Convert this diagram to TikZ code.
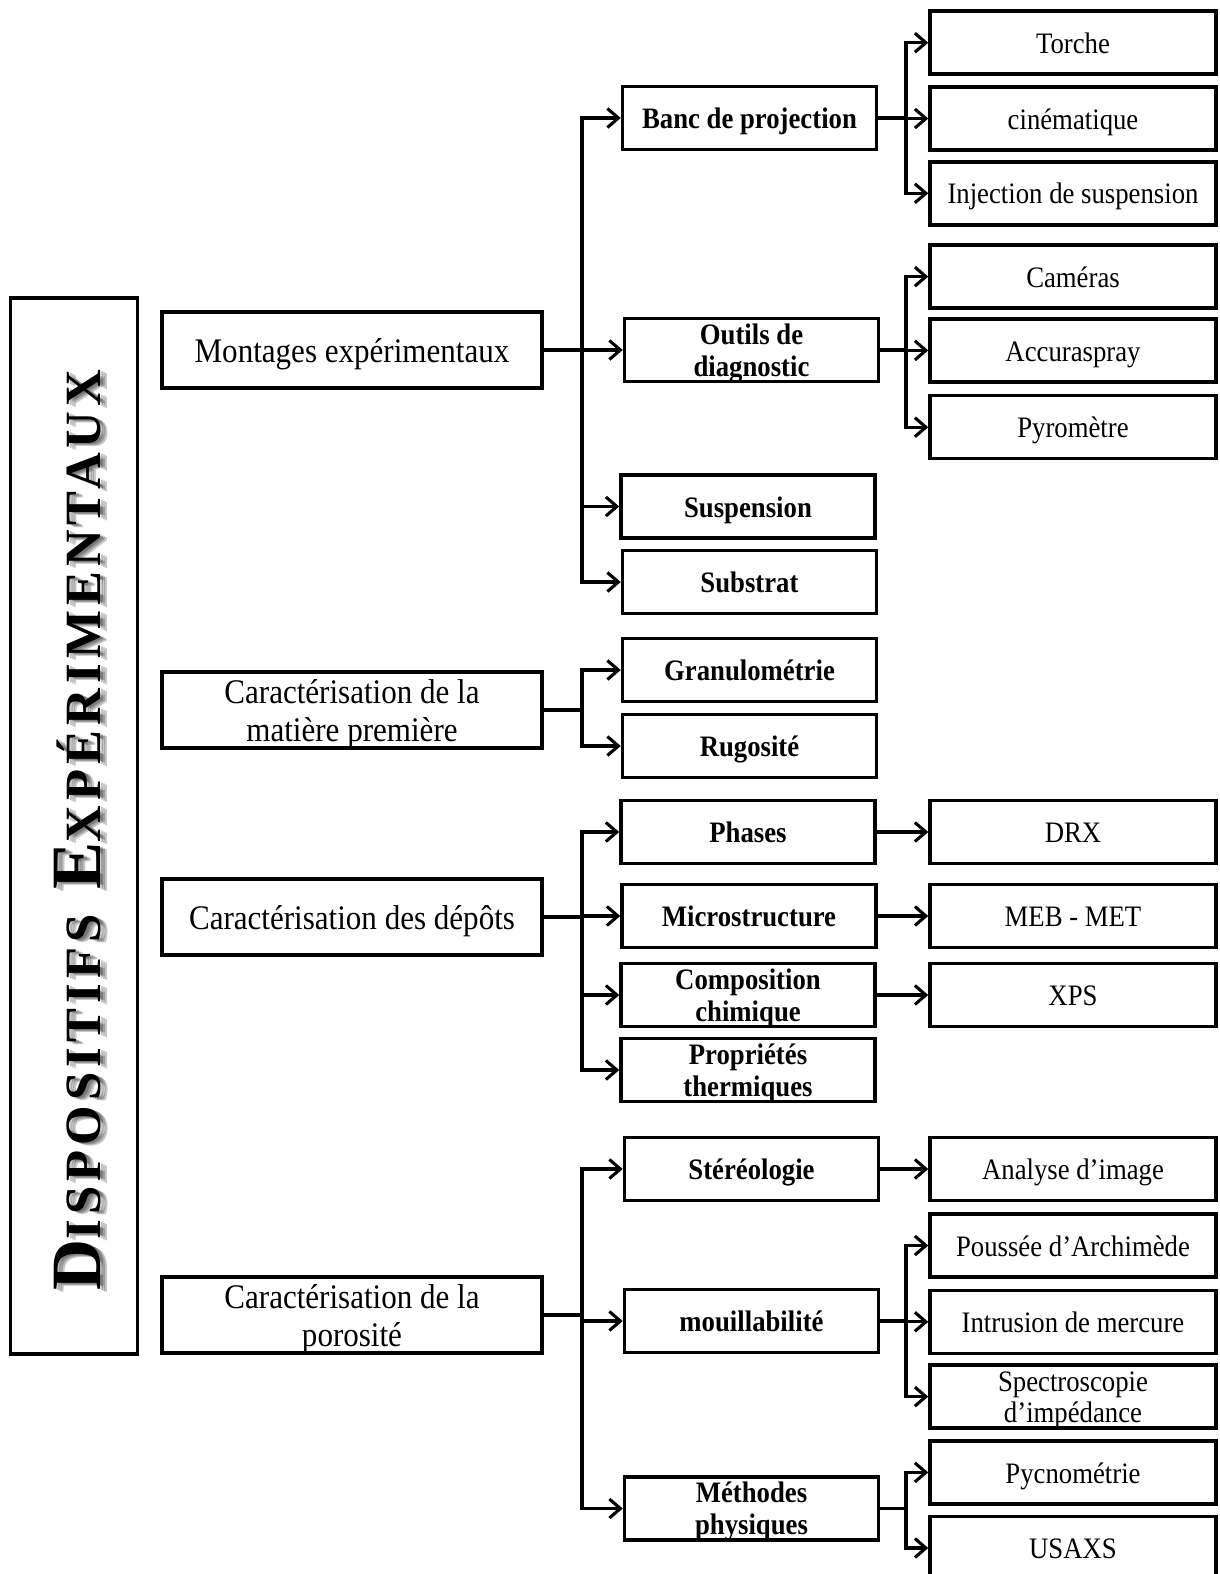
\documentclass[tikz,border=0pt]{standalone}
\usepackage{fontspec}
\setmainfont{Liberation Serif}[FakeStretch=0.9]
\newfontfamily\titlefont{Liberation Serif}[LetterSpace=10]
\usetikzlibrary{arrows.meta}
\newcommand\mytitletext{\titlefont\bfseries\fontsize{64}{64}\selectfont D\fontsize{46}{46}\selectfont ISPOSITIFS\hspace{22pt}\fontsize{64}{64}\selectfont E\fontsize{46}{46}\selectfont XPÉRIMENTAUX}
\newcommand\topst{\rule{0pt}{0.97em}}
\newcommand\botst{\rule[-0.25em]{0pt}{0.25em}}
\newcommand\bx[1]{\topst#1\botst}
% two-line text: #3 = baseline of the second line below the box centre
\newcommand\twol[3]{\raisebox{-#3}[0pt][0pt]{\begin{tabular}[b]{@{}c@{}}#1\\#2\end{tabular}}}
\begin{document}
\begin{tikzpicture}[x=1pt,y=-1pt,
  box/.style={draw, line width=3.5pt, inner sep=0pt, align=center},
  lone/.style={box, minimum width=380pt, minimum height=76pt, font=\fontsize{34.5}{38}\selectfont},
  ltwo/.style={box, minimum width=254pt, minimum height=63pt, font=\bfseries\fontsize{29.7}{32}\selectfont},
  lthree/.style={box, minimum width=286pt, minimum height=63pt, font=\fontsize{29.7}{31}\selectfont},
  conn/.style={line width=3.1pt},
  arr/.style={conn, -{Straight Barb[length=11pt,width=19pt]}},
  shadow/.style={rotate=90, inner sep=0pt, text=black, opacity=0.22}]
\useasboundingbox (0,0) rectangle (1220,1574);
% left frame and title
\node[draw, line width=3.2pt, minimum width=127pt, minimum height=1056pt, inner sep=0pt] (frame) at (74,826) {};
\node[shadow] (sh1) at (81,831) {\resizebox{921pt}{!}{\mytitletext}};
\node[shadow] (sh2) at (83,832) {\resizebox{921pt}{!}{\mytitletext}};
\node[shadow] (sh3) at (85,833) {\resizebox{921pt}{!}{\mytitletext}};
\node[rotate=90, inner sep=0pt] (title) at (78,830) {\resizebox{921pt}{!}{\mytitletext}};
% level 1
\node[lone] (m) at (352,350) {\bx{Montages expérimentaux}};
\node[lone] (cm) at (352,710) {\twol{Caractérisation de la}{matière première}{31.5pt}};
\node[lone] (cd) at (352,917) {\bx{Caractérisation des dépôts}};
\node[lone] (cp) at (352,1315) {\twol{Caractérisation de la}{porosité}{31.5pt}};
% level 2
\node[ltwo] (banc) at (749.5,118) {\bx{Banc de projection}};
\node[ltwo] (outils) at (751.5,350) {\twol{Outils de}{diagnostic}{26pt}};
\node[ltwo] (susp) at (748,506.5) {\bx{Suspension}};
\node[ltwo] (subs) at (749.5,582) {\bx{Substrat}};
\node[ltwo] (gran) at (749.5,670) {\bx{Granulométrie}};
\node[ltwo] (rug) at (749.5,746) {\bx{Rugosité}};
\node[ltwo] (phas) at (748,832) {\bx{Phases}};
\node[ltwo] (micro) at (749,916) {\bx{Microstructure}};
\node[ltwo] (comp) at (748,995) {\twol{Composition}{chimique}{26pt}};
\node[ltwo] (prop) at (748,1070) {\twol{Propriétés}{thermiques}{26pt}};
\node[ltwo] (stereo) at (751.5,1169) {\bx{Stéréologie}};
\node[ltwo] (mouil) at (751.5,1321) {\bx{mouillabilité}};
\node[ltwo] (meth) at (751.5,1508.5) {\twol{Méthodes}{physiques}{26pt}};
% level 3
\node[lthree] (torche) at (1073,42.7) {\bx{Torche}};
\node[lthree] (cine) at (1073,118.5) {\bx{cinématique}};
\node[lthree] (inj) at (1073,193.3) {\bx{Injection de suspension}};
\node[lthree] (cam) at (1073,276.6) {\bx{Caméras}};
\node[lthree] (acc) at (1073,350.4) {\bx{Accuraspray}};
\node[lthree] (pyro) at (1073,427.2) {\bx{Pyromètre}};
\node[lthree] (drx) at (1073,832) {\bx{DRX}};
\node[lthree] (meb) at (1073,916) {\bx{MEB - MET}};
\node[lthree] (xps) at (1073,995) {\bx{XPS}};
\node[lthree] (ana) at (1073,1169) {\bx{Analyse d’image}};
\node[lthree] (pous) at (1073,1245.5) {\bx{Poussée d’Archimède}};
\node[lthree] (intr) at (1073,1321.8) {\bx{Intrusion de mercure}};
\node[lthree] (spec) at (1073,1396.6) {\twol{Spectroscopie}{d’impédance}{25.5pt}};
\node[lthree] (pyc) at (1073,1472.4) {\bx{Pycnométrie}};
\node[lthree] (usaxs) at (1073,1548) {\bx{USAXS}};
% junctions level 1 -> level 2
\coordinate (jm) at (582,350);
\coordinate (jcm) at (582,710);
\coordinate (jcd) at (582,917);
\coordinate (jcp) at (582,1315);
\draw[conn] (m.east) -- (jm);
\draw[conn] (cm.east) -- (jcm);
\draw[conn] (cd.east) -- (jcd);
\draw[conn] (cp.east) -- (jcp);
\foreach \c in {banc,outils,susp,subs} \draw[arr] (jm) |- (\c.west);
\foreach \c in {gran,rug} \draw[arr] (jcm) |- (\c.west);
\foreach \c in {phas,micro,comp,prop} \draw[arr] (jcd) |- (\c.west);
\foreach \c in {stereo,mouil,meth} \draw[arr] (jcp) |- (\c.west);
% junctions level 2 -> level 3
\coordinate (jb) at (906,118);
\coordinate (jo) at (906,350);
\coordinate (jmo) at (906,1321);
\coordinate (jme) at (906,1508.5);
\draw[conn] (banc.east) -- (jb);
\draw[conn] (outils.east) -- (jo);
\draw[conn] (mouil.east) -- (jmo);
\draw[conn] (meth.east) -- (jme);
\foreach \c in {torche,cine,inj} \draw[arr] (jb) |- (\c.west);
\foreach \c in {cam,acc,pyro} \draw[arr] (jo) |- (\c.west);
\foreach \c in {pous,intr,spec} \draw[arr] (jmo) |- (\c.west);
\foreach \c in {pyc,usaxs} \draw[arr] (jme) |- (\c.west);
\draw[arr] (phas.east) -- (drx.west);
\draw[arr] (micro.east) -- (meb.west);
\draw[arr] (comp.east) -- (xps.west);
\draw[arr] (stereo.east) -- (ana.west);
\end{tikzpicture}
\end{document}
